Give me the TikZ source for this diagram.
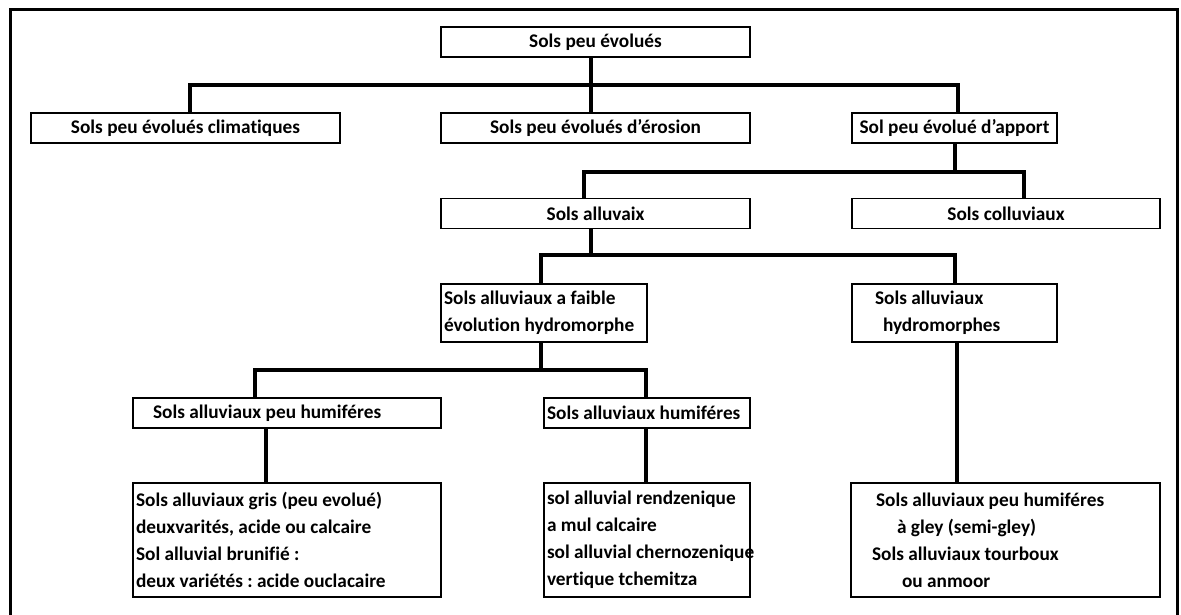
\documentclass[tikz,border=0pt]{standalone}
\usepackage{fontspec}
\setmainfont{Carlito}[Ligatures=NoCommon]
\frenchspacing
\begin{document}
\begin{tikzpicture}[x=1pt,y=-1pt,
	box/.style={draw, line width=1.5pt, inner sep=3pt, minimum height=30pt, font=\fontsize{19.3}{27}\selectfont\bfseries},
	boxl/.style={box, align=flush left},
	link/.style={line width=4pt}]
\useasboundingbox (0,0) rectangle (1181,615);
\draw [line width=3pt] (10,615) -- (10,10) -- (1177,10) -- (1177,615);

\path (595.5,42) node[box, minimum width=309pt] (top) {Sols peu évolués}
		(185.5,128) node[box, minimum width=309pt] (clim) {Sols peu évolués climatiques}
		(595.5,128) node[box, minimum width=309pt] (eros) {Sols peu évolués d’érosion}
		(954.5,128) node[box, minimum width=205pt] (apport) {Sol peu évolué d’apport}
		(595.5,213.5) node[box, minimum width=309pt] (alluv) {Sols alluvaix}
		(1006,213.5) node[box, minimum width=308pt] (colluv) {Sols colluviaux}
		(544,313) node[boxl, text width=200pt, minimum height=58pt] (faible) {Sols alluviaux a faible\\évolution hydromorphe}
		(954.5,313) node[boxl, text width=199pt, minimum height=58pt] (hydro) {\hspace*{20pt}Sols alluviaux\\\hspace*{28pt}hydromorphes}
		(287,413) node[boxl, text width=302pt] (peuhum) {\hspace*{17pt}Sols alluviaux peu humiféres}
		(647,413) node[boxl, text width=200pt] (hum) {Sols alluviaux humiféres}
		(287,540) node[boxl, text width=302pt, minimum height=114pt] (gris) {Sols alluviaux gris (peu evolué)\\deuxvarités, acide ou calcaire\\Sol alluvial brunifié :\\deux variétés : acide ouclacaire}
		(647,540) node[boxl, text width=200pt, minimum height=114pt] (rendz) {\mbox{sol alluvial rendzenique}\\a mul calcaire\\\mbox{sol alluvial chernozenique}\\vertique tchemitza}
		(1005.5,540) node[boxl, text width=303pt, minimum height=114pt] (gley) {\hspace*{22pt}Sols alluviaux peu humiféres\\\hspace*{43pt}à gley (semi-gley)\\\hspace*{18pt}Sols alluviaux tourboux\\\hspace*{48pt}ou anmoor}
		;

\coordinate (b1) at (0,85);
\coordinate (b2) at (0,172);
\coordinate (b3) at (0,255);
\coordinate (b4) at (0,370);

\draw [link] ([xshift=-4.5pt]top.south) -- ([xshift=-4.5pt]eros.north);
\draw [link] ([xshift=4.5pt]clim.north) |- ([xshift=3.5pt]apport.north |- b1) -- ([xshift=3.5pt]apport.north);
\draw [link] (apport.south) -- (apport.south |- b2);
\draw [link] ([xshift=-11.5pt]alluv.north) |- ([xshift=18pt]colluv.north |- b2) -- ([xshift=18pt]colluv.north);
\draw [link] ([xshift=-4.5pt]alluv.south) -- ([xshift=-4.5pt]alluv.south |- b3);
\draw [link] ([xshift=-3pt]faible.north) |- (hydro.north |- b3) -- (hydro.north);
\draw [link] ([xshift=-3pt]faible.south) -- ([xshift=-3pt]faible.south |- b4);
\draw [link] ([xshift=-32pt]peuhum.north) |- ([xshift=-1pt]hum.north |- b4) -- ([xshift=-1pt]hum.north);
\draw [link] ([xshift=-21pt]peuhum.south) -- ([xshift=-21pt]gris.north);
\draw [link] ([xshift=-1pt]hum.south) -- ([xshift=-1pt]rendz.north);
\draw [link] ([xshift=2.5pt]hydro.south) -- ([xshift=-48.5pt]gley.north);
\end{tikzpicture}
\end{document}
